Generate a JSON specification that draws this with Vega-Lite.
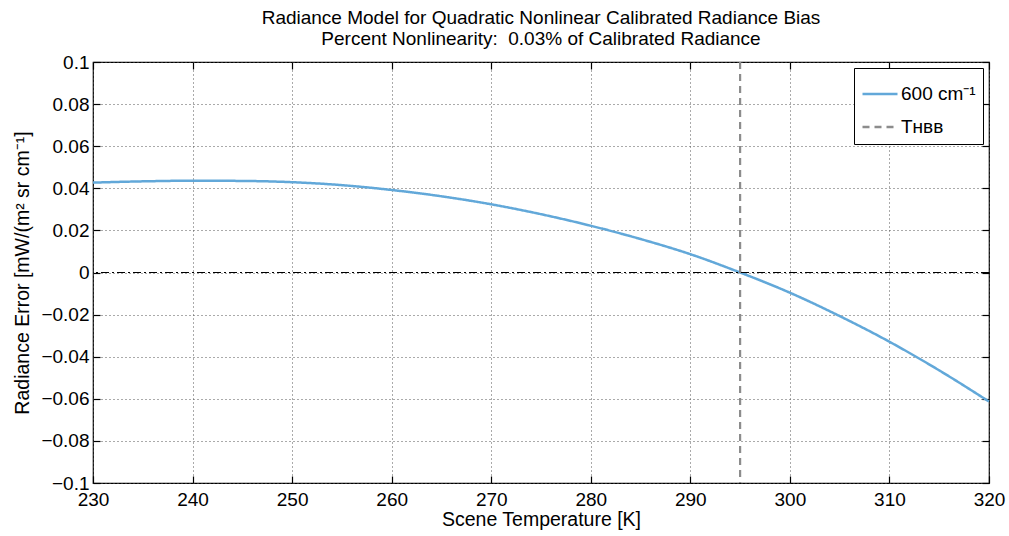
{
  "$schema": "https://vega.github.io/schema/vega-lite/v6.json",
  "width": 896,
  "height": 421,
  "autosize": {"type": "none"},
  "padding": {"left": 93, "top": 62, "right": 20, "bottom": 53},
  "background": "white",
  "config": {
    "font": "Liberation Sans",
    "view": {"stroke": "black", "strokeWidth": 1.2},
    "axis": {"labelFont": "Liberation Sans", "titleFont": "Liberation Sans", "labelColor": "black", "titleColor": "black", "titleFontWeight": "normal", "domain": false, "tickColor": "black", "tickSize": -7, "tickWidth": 1.2, "gridColor": "#555", "gridDash": [1, 3], "gridWidth": 1, "labelFontSize": 19, "titleFontSize": 19.5},
    "legend": {"labelFont": "Liberation Sans", "labelFontSize": 19, "labelColor": "black"}
  },
  "title": {
    "text": ["Radiance Model for Quadratic Nonlinear Calibrated Radiance Bias", "Percent Nonlinearity: \u00a00.03% of Calibrated Radiance"],
    "fontSize": 19,
    "fontWeight": "normal",
    "font": "Liberation Sans",
    "color": "black",
    "lineHeight": 21,
    "offset": 4
  },
  "layer": [
    {
      "data": {"values": [
        {"temp": 230, "err": 0.0427},
        {"temp": 235, "err": 0.0433},
        {"temp": 240, "err": 0.0436},
        {"temp": 245, "err": 0.0435},
        {"temp": 250, "err": 0.0429},
        {"temp": 255, "err": 0.0415},
        {"temp": 260, "err": 0.0392},
        {"temp": 265, "err": 0.0362},
        {"temp": 270, "err": 0.0324},
        {"temp": 275, "err": 0.0277},
        {"temp": 280, "err": 0.0222},
        {"temp": 285, "err": 0.0159},
        {"temp": 290, "err": 0.0087},
        {"temp": 295, "err": 0.0},
        {"temp": 300, "err": -0.0096},
        {"temp": 305, "err": -0.0207},
        {"temp": 310, "err": -0.0329},
        {"temp": 315, "err": -0.0465},
        {"temp": 320, "err": -0.0613}
      ]},
      "mark": {"type": "line", "strokeWidth": 2.5, "interpolate": "monotone"},
      "encoding": {
        "x": {"field": "temp", "type": "quantitative",
          "scale": {"domain": [230, 320], "nice": false, "zero": false},
          "axis": {"title": "Scene Temperature [K]", "values": [230, 240, 250, 260, 270, 280, 290, 300, 310, 320], "grid": true, "labelPadding": 14, "titlePadding": 1, "labelFlush": false}},
        "y": {"field": "err", "type": "quantitative",
          "scale": {"domain": [-0.1, 0.1], "nice": false, "zero": false},
          "axis": {"title": "Radiance Error [mW/(m² sr cm⁻¹]", "values": [-0.1, -0.08, -0.06, -0.04, -0.02, 0, 0.02, 0.04, 0.06, 0.08, 0.1], "format": "~g", "grid": true, "labelPadding": 11, "titlePadding": 8, "labelFlush": false}},
        "color": {"datum": "600 cm⁻¹", "type": "nominal",
          "scale": {"domain": ["600 cm⁻¹", "Tʜʙʙ"], "range": ["#62a8d9", "#8c8c8c"]},
          "legend": {"title": null, "orient": "top-right", "offset": 6, "symbolType": "stroke", "symbolSize": 1225, "symbolStrokeWidth": 2.5, "strokeColor": "black", "fillColor": "white", "padding": 7, "rowPadding": 4, "labelOffset": 2}},
        "strokeDash": {"datum": "600 cm⁻¹", "type": "nominal",
          "scale": {"domain": ["600 cm⁻¹", "Tʜʙʙ"], "range": [[1, 0], [7, 5]]},
          "legend": null}
      }
    },
    {
      "data": {"values": [{"temp": 295}]},
      "mark": {"type": "rule", "strokeWidth": 2.2},
      "encoding": {
        "x": {"field": "temp", "type": "quantitative",
          "axis": {"orient": "top", "labels": false, "title": null, "grid": false, "values": [230, 240, 250, 260, 270, 280, 290, 300, 310, 320]}},
        "color": {"datum": "Tʜʙʙ", "type": "nominal"},
        "strokeDash": {"datum": "Tʜʙʙ", "type": "nominal"}
      }
    },
    {
      "data": {"values": [{"err": 0}]},
      "mark": {"type": "rule", "strokeWidth": 1, "color": "black", "strokeDash": [8, 3, 2, 3]},
      "encoding": {
        "y": {"field": "err", "type": "quantitative",
          "axis": {"orient": "right", "labels": false, "title": null, "grid": false, "values": [-0.1, -0.08, -0.06, -0.04, -0.02, 0, 0.02, 0.04, 0.06, 0.08, 0.1]}}
      }
    }
  ],
  "resolve": {"axis": {"x": "independent", "y": "independent"}}
}
